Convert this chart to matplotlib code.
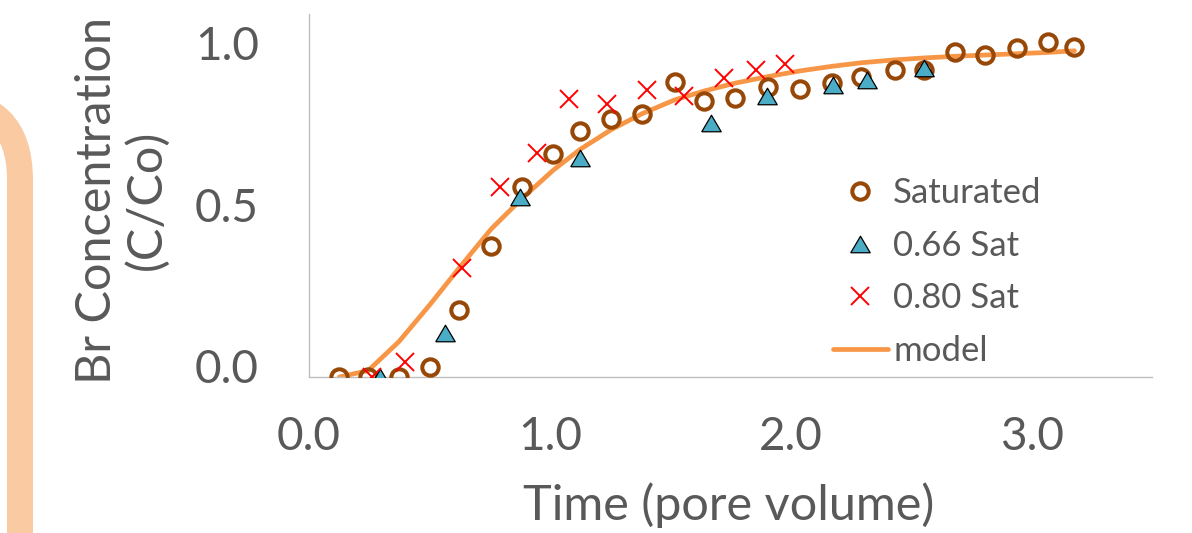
import matplotlib
matplotlib.use('Agg')
import matplotlib.pyplot as plt
from matplotlib.patches import FancyBboxPatch
from matplotlib.transforms import IdentityTransform, ScaledTranslation
from matplotlib.lines import Line2D

# Saturated column
sat_x = [0.126, 0.246, 0.374, 0.503, 0.624, 0.756, 0.886, 1.015, 1.126, 1.255,
         1.382, 1.518, 1.638, 1.770, 1.904, 2.040, 2.171, 2.293, 2.432, 2.555,
         2.681, 2.808, 2.940, 3.067, 3.178]
sat_y = [0.0, 0.0, 0.0, 0.032, 0.207, 0.406, 0.587, 0.690, 0.762, 0.798,
         0.814, 0.914, 0.854, 0.863, 0.897, 0.892, 0.911, 0.928, 0.950, 0.950,
         1.007, 0.997, 1.018, 1.036, 1.023]

# 0.66 saturation
s66_x = [0.295, 0.565, 0.877, 1.126, 1.669, 1.901, 2.176, 2.317, 2.555]
s66_y = [0.0, 0.135, 0.558, 0.677, 0.785, 0.870, 0.904, 0.920, 0.956]

# 0.80 saturation
s80_x = [0.260, 0.399, 0.637, 0.791, 0.948, 1.081, 1.239, 1.403, 1.555, 1.721,
         1.857, 1.978]
s80_y = [0.0, 0.047, 0.337, 0.589, 0.694, 0.861, 0.844, 0.889, 0.870, 0.925,
         0.950, 0.969]

# model curve
model_x = sat_x
model_y = [0.0, 0.02, 0.11, 0.225, 0.338, 0.458, 0.554, 0.641, 0.705, 0.766,
           0.815, 0.858, 0.885, 0.910, 0.930, 0.948, 0.962, 0.973, 0.982, 0.988,
           0.993, 0.997, 1.001, 1.005, 1.010]

x_ticks = [0.0, 1.0, 2.0, 3.0]
y_ticks = [0.0, 0.5, 1.0]

TEXT = '#595959'
plt.rcParams['font.family'] = ['Lato', 'DejaVu Sans']

W, H = 1192, 533
fig = plt.figure(figsize=(W / 100, H / 100), dpi=100)
fig.patch.set_facecolor('white')

# decorative rounded frame on the left edge (pixel coords)
deco = FancyBboxPatch((-400, -200), 420, H - 101 + 200,
                      boxstyle='round,pad=0,rounding_size=79',
                      transform=IdentityTransform(), facecolor='none',
                      edgecolor='#FACBA2', linewidth=26 * 0.72)
fig.add_artist(deco)

ax = fig.add_axes([309 / W, (H - 377) / H, (1152 - 309) / W, (377 - 14) / H])
ax.set_xlim(0, 3.5)
ax.set_ylim(0, 1.124)

ax.plot(model_x, model_y, color='#F79646', lw=3.4, zorder=2, solid_capstyle='round')
ax.plot(sat_x, sat_y, 'o', ms=11.8, mfc='none', mec='#974706', mew=2.9, zorder=3)
tri = [(-1, -0.85), (1, -0.85), (0, 0.85), (-1, -0.85)]
ax.plot(s66_x, s66_y, ls='none', marker=tri, ms=14, mfc='#4BACC6', mec='black',
        mew=0.9, zorder=4)
ax.plot(s80_x, s80_y, 'x', ms=13, color='#FF0000', mew=1.4, zorder=5)

for s in ['top', 'right']:
    ax.spines[s].set_visible(False)
for s in ['left', 'bottom']:
    ax.spines[s].set_color('#BFBFBF')
    ax.spines[s].set_linewidth(1.0)

ax.set_xticks(x_ticks)
ax.set_yticks(y_ticks)
ax.set_xticklabels([f'{v:.1f}' for v in x_ticks])
ax.set_yticklabels([f'{v:.1f}' for v in y_ticks])
ax.tick_params(axis='both', length=0, labelsize=33, labelcolor=TEXT)
ax.tick_params(axis='x', pad=28)
ax.tick_params(axis='y', pad=36)
# value labels sit a bit above their gridline in the original
shift = ScaledTranslation(0, 11 / 100, fig.dpi_scale_trans)
for lab in ax.get_yticklabels():
    lab.set_transform(lab.get_transform() + shift)

fig.text(729 / W, 13 / H, 'Time (pore volume)', ha='center', va='baseline',
         fontsize=35, color=TEXT)
fig.text(122 / W, (H - 200) / H, 'Br Concentration\n(C/Co)', ha='center',
         va='center', rotation=90, multialignment='center', linespacing=1.15,
         fontsize=35, color=TEXT)

handles = [
    Line2D([], [], ls='none', marker='o', ms=11.8, mfc='none', mec='#974706', mew=2.9),
    Line2D([], [], ls='none', marker=tri, ms=14, mfc='#4BACC6', mec='black', mew=0.9),
    Line2D([], [], ls='none', marker='x', ms=13, color='#FF0000', mew=1.4),
    Line2D([], [], color='#F79646', lw=3.4, solid_capstyle='round'),
]
labels = ['Saturated', '0.66 Sat', '0.80 Sat', 'model']
leg = fig.legend(handles, labels, loc='center left',
                 bbox_to_anchor=(833 / W, (H - 272) / H), frameon=False,
                 fontsize=25, handlelength=1.58, handletextpad=0.15,
                 labelspacing=0.59, borderpad=0, borderaxespad=0)
for t in leg.get_texts():
    t.set_color(TEXT)

fig.savefig('out.png', dpi=100)
